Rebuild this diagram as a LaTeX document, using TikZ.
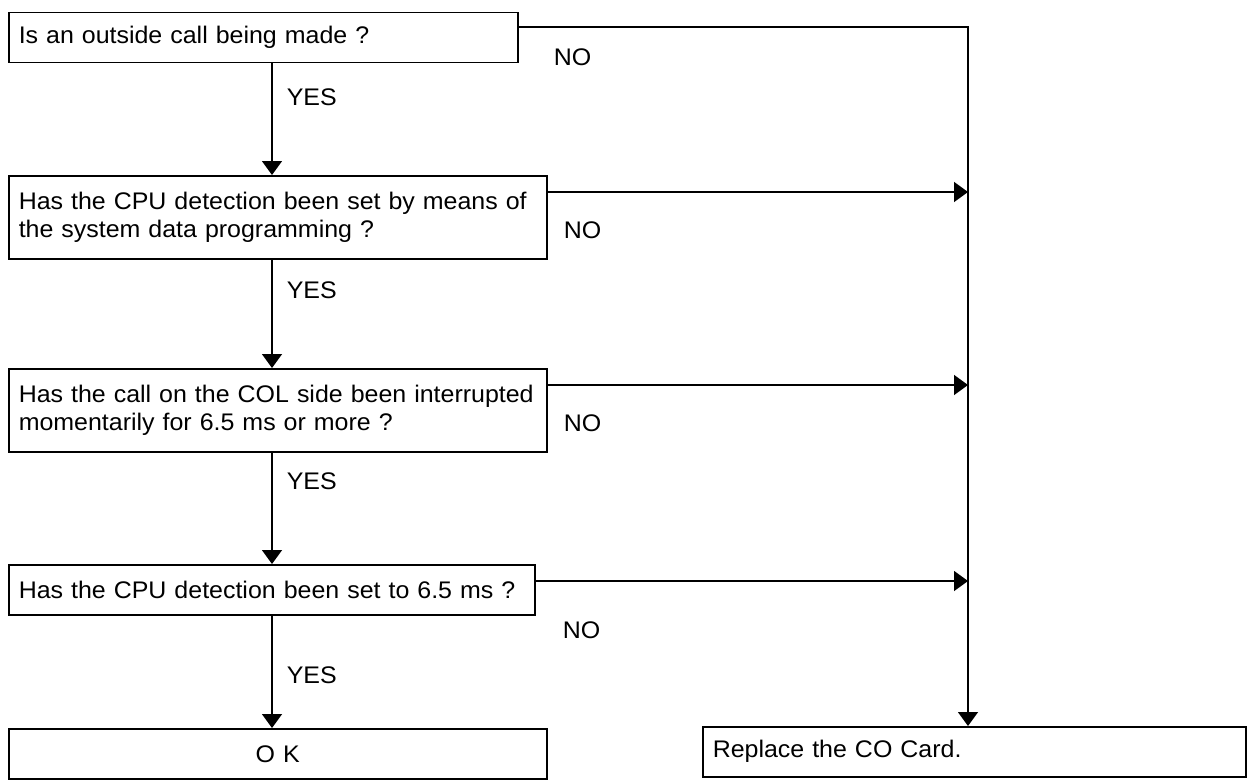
\documentclass[tikz,border=0pt]{standalone}
\usepackage{fontspec}
\setmainfont[FakeStretch=1.04]{Liberation Sans}
\usetikzlibrary{arrows.meta,positioning}

\begin{document}
\begin{tikzpicture}[x=1pt,y=-1pt,line width=1.5pt,>={Triangle[length=14pt,width=20pt]},
 font=\fontsize{24}{27.5}\selectfont,
 qbox/.style={draw,anchor=north west,align=left,inner xsep=10pt,inner ysep=0pt},
 lab/.style={anchor=west,inner sep=0pt}]
 \useasboundingbox (0,0) rectangle (1255,781);
 \coordinate (trunk) at (272,0);
 \coordinate (rail) at (968,0);
 \node[qbox,text width=489pt,minimum height=50pt] (q1) at (8,12) {Is an outside call being made ?};
 \node[qbox,text width=518pt,minimum height=83pt] (q2) at (8,175) {Has the CPU detection been set by means of\\the system data programming ?};
 \node[qbox,text width=518pt,minimum height=83pt] (q3) at (8,368) {Has the call on the COL side been interrupted\\momentarily for 6.5 ms or more ?};
 \node[qbox,text width=506pt,minimum height=50pt] (q4) at (8,564) {Has the CPU detection been set to 6.5 ms ?};
 \node[qbox,text width=518pt,minimum height=50pt,align=center] (ok) at (8,728) {O K};
 \node[qbox,text width=523pt,minimum height=50pt] (repl) at (702,726) {Replace the CO Card.};
 % YES branch down the left
 \draw[->] (q1.south -| trunk) -- (q2.north -| trunk);
 \draw[->] (q2.south -| trunk) -- (q3.north -| trunk);
 \draw[->] (q3.south -| trunk) -- (q4.north -| trunk);
 \draw[->] (q4.south -| trunk) -- (ok.north -| trunk);
 \node[lab] (y1) at (286,97) {YES};
 \node[lab] (y2) at (286,290) {YES};
 \node[lab] (y3) at (286,481) {YES};
 \node[lab] (y4) at (286,675) {YES};
 % NO branch to the right
 \draw[->] ([yshift=-15pt]q1.north east) -| (repl.north -| rail);
 \foreach \q in {q2,q3,q4} {
  \path ([yshift=-17pt]\q.north east) coordinate (\q-no);
  \draw[->] (\q-no) -- (\q-no -| rail);
 }
 \node[lab] (n1) at (553,57) {NO};
 \node[lab] (n2) at (563,230) {NO};
 \node[lab] (n3) at (563,423) {NO};
 \node[lab] (n4) at (562,630) {NO};
\end{tikzpicture}
\end{document}
